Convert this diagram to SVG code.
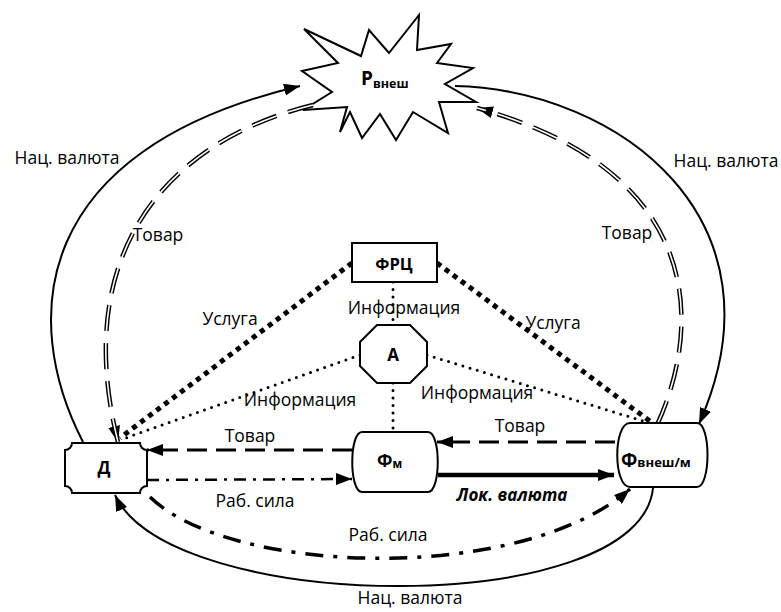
<svg xmlns="http://www.w3.org/2000/svg" width="781" height="612" viewBox="0 0 781 612">
<style>
text{font-family:"Open Sans","Liberation Sans",sans-serif;fill:#000}
.lb{font-size:17.5px;text-anchor:middle}
.nb{font-weight:bold;text-anchor:middle}
.node{fill:#fff;stroke:#000;stroke-width:2}
.solid{fill:none;stroke:#000;stroke-width:2}
.dblo{fill:none;stroke:#000;stroke-width:4.5;stroke-dasharray:26 12}
.dbli{fill:none;stroke:#fff;stroke-width:1.6;stroke-dasharray:26 12}
.dash{fill:none;stroke:#000;stroke-width:3;stroke-dasharray:20 9}
.dd{fill:none;stroke:#000;stroke-width:2.5;stroke-dasharray:12 7 3 7}
.ddt{fill:none;stroke:#000;stroke-width:3.5;stroke-dasharray:18 10 4 10}
.thick{fill:none;stroke:#000;stroke-width:4.5}
.sq{fill:none;stroke:#000;stroke-width:5;stroke-dasharray:5 5}
.dot{fill:none;stroke:#000;stroke-width:3;stroke-linecap:round;stroke-dasharray:0 7.5}
</style>
<defs>
<marker id="ah" viewBox="0 0 16 12" refX="16" refY="6" markerWidth="16" markerHeight="12" markerUnits="userSpaceOnUse" orient="auto"><path d="M0,0 L16,6 L0,12 z" fill="#000"/></marker>
</defs>
<g id="star">
<polygon class="node" points="304,29 361,56 369,30 389,53 419,15 417,50 451,44 437,63 473,68 445,84 476,102 439,102 448,133 413,112 396,140 380,114 362,138 350,112 340,132 347,107 303,110 332,92 302,71 338,63"/>
<text x="361" y="85" font-size="19" font-weight="bold">Р<tspan font-size="12.5" dy="3">внеш</tspan></text>
</g>
<g id="connectors">
<path class="solid" d="M83,442 C20,320 30,150 300,86" marker-end="url(#ah)"/>
<path class="dblo" d="M313,105 C170,140 70,250 118,442" marker-end="url(#ah)"/>
<path class="dbli" d="M313,105 C170,140 70,250 118,442"/>
<path class="solid" d="M455,86 C620,90 790,220 699,424" marker-end="url(#ah)"/>
<path class="dblo" d="M657,425 C705,320 700,170 477,108" marker-end="url(#ah)"/>
<path class="dbli" d="M657,425 C705,320 700,170 477,108"/>
<path class="solid" d="M653,488 C640,620 170,615 115,495" marker-end="url(#ah)"/>
<path class="ddt" d="M150,497 C230,575 520,585 630,489" marker-end="url(#ah)"/>
<path class="dash" d="M352,450 L147,450" marker-end="url(#ah)"/>
<path class="dd" d="M147,480 L352,479" marker-end="url(#ah)"/>
<path class="dash" d="M615,442 L437,442" marker-end="url(#ah)"/>
<path class="thick" d="M438,475 L614,475" marker-end="url(#ah)"/>
<path class="sq" d="M352,263 L120,438"/>
<path class="sq" d="M437,263 L655,425"/>
<path class="dot" d="M360,355 L120,440"/>
<path class="dot" d="M427,355 L653,424"/>
<path class="dot" d="M393,282 L393,325"/>
<path class="dot" d="M393,383 L393,432"/>
</g>
<g id="labels">
<text class="lb" x="67" y="164">Нац. валюта</text>
<text class="lb" x="158" y="241">Товар</text>
<text class="lb" x="726" y="167">Нац. валюта</text>
<text class="lb" x="627" y="239">Товар</text>
<text class="lb" x="230" y="325">Услуга</text>
<text class="lb" x="553" y="329">Услуга</text>
<text class="lb" x="404" y="314">Информация</text>
<text class="lb" x="300" y="406">Информация</text>
<text class="lb" x="477" y="399">Информация</text>
<text class="lb" x="250" y="442">Товар</text>
<text class="lb" x="520" y="432">Товар</text>
<text x="512" y="501" font-size="17" font-weight="bold" font-style="italic" text-anchor="middle">Лок. валюта</text>
<text class="lb" x="255" y="507">Раб. сила</text>
<text class="lb" x="388" y="541">Раб. сила</text>
<text class="lb" x="410" y="604">Нац. валюта</text>
</g>
<g id="frc">
<rect class="node" x="352" y="243" width="85" height="39"/>
<text class="nb" x="394" y="270" font-size="16.5">ФРЦ</text>
</g>
<g id="a">
<polygon class="node" points="377,325 410,325 427,342 427,366 410,383 377,383 360,366 360,342"/>
<text class="nb" x="393" y="361" font-size="17">А</text>
</g>
<g id="d">
<path class="node" d="M72,443 H140 A7,7 0 0 0 147,450 V486 A7,7 0 0 0 140,493 H72 A7,7 0 0 0 65,486 V450 A7,7 0 0 0 72,443 Z"/>
<text class="nb" x="104" y="474" font-size="17">Д</text>
</g>
<g id="fm">
<path class="node" d="M362,432 H428 C441,432 441,492 428,492 H362 C349,492 349,432 362,432 Z"/>
<text x="377" y="467" font-size="18" font-weight="bold">Ф<tspan font-size="11.5" dy="1">м</tspan></text>
</g>
<g id="fvn">
<path class="node" d="M630,423 H697 C711,423 711,487 697,487 H630 C613,487 613,423 630,423 Z"/>
<text x="621" y="467" font-size="19" font-weight="bold">Ф<tspan font-size="13">внеш/м</tspan></text>
</g>
</svg>
